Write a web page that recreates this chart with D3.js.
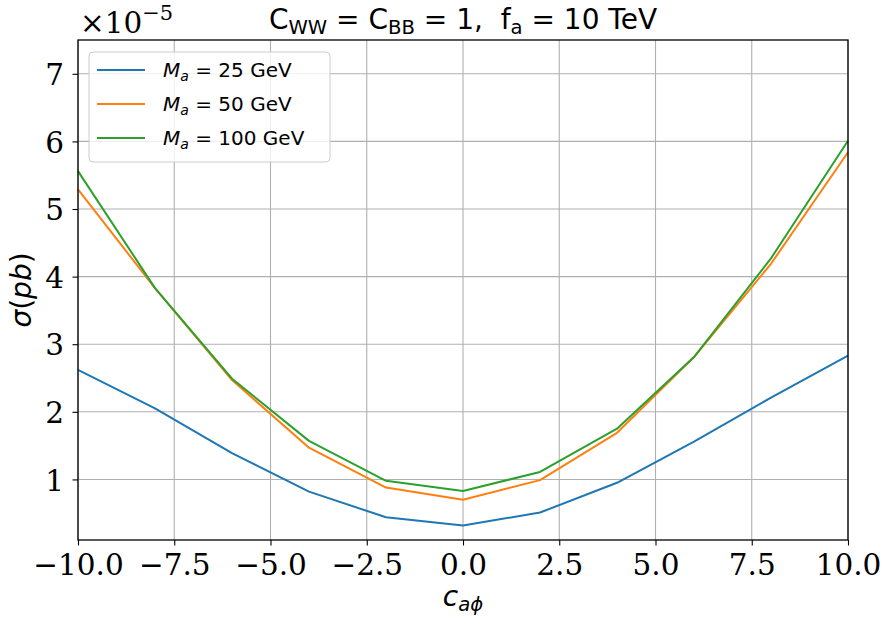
<!DOCTYPE html>
<html>
<head>
<meta charset="utf-8">
<script src="https://cdn.jsdelivr.net/npm/d3@7"></script>
<style>
  body { margin: 0; background: #fff; }
  svg { display: block; }
  text { white-space: pre; }
</style>
</head>
<body>
<div id="chart"></div>
<script>
// ---- data ----
const cvals = [-10, -8, -6, -4, -2, 0, 2, 4, 6, 8, 10];
const sigma25 = [2.62, 2.05, 1.39, 0.82, 0.44, 0.32, 0.51, 0.95, 1.56, 2.21, 2.83];
const sigma50 = [5.29, 3.83, 2.47, 1.47, 0.88, 0.70, 0.99, 1.69, 2.81, 4.19, 5.84];
const sigma100 = [5.56, 3.83, 2.49, 1.57, 0.98, 0.83, 1.11, 1.75, 2.81, 4.27, 6.01];
const seriesMass = ["25", "50", "100"];
const seriesColors = ["#1f77b4", "#ff7f0e", "#2ca02c"];
const xTicks = [-10, -7.5, -5, -2.5, 0, 2.5, 5, 7.5, 10];
const yTicks = [1, 2, 3, 4, 5, 6, 7];

(function () {
const W = 887, H = 620;
const pL = 78, pR = 848, pT = 40, pB = 540;

const svg = d3.select("#chart").append("svg").attr("width", W).attr("height", H);

const x = d3.scaleLinear().domain([-10, 10]).range([pL, pR]);
const y = d3.scaleLinear().domain([0.104, 7.5]).range([pB, pT]);

const serif = "'DejaVu Serif', serif";
const sans = "'DejaVu Sans', sans-serif";

// grid
const grid = svg.append("g");
grid.selectAll(".gx").data(xTicks).join("line")
  .attr("x1", d => x(d)).attr("x2", d => x(d))
  .attr("y1", pT).attr("y2", pB)
  .attr("stroke", "#b0b0b0").attr("stroke-width", 1.1);
grid.selectAll(".gy").data(yTicks).join("line")
  .attr("x1", pL).attr("x2", pR)
  .attr("y1", d => y(d)).attr("y2", d => y(d))
  .attr("stroke", "#b0b0b0").attr("stroke-width", 1.1);

// lines
const allSeries = [sigma25, sigma50, sigma100];
const line = d3.line().x((d, i) => x(cvals[i])).y(d => y(d));
svg.append("g")
  .selectAll("path").data(allSeries).join("path")
  .attr("d", d => line(d))
  .attr("fill", "none")
  .attr("stroke", (d, i) => seriesColors[i])
  .attr("stroke-width", 2)
  .attr("stroke-linejoin", "round");

// axes
const xAxis = d3.axisBottom(x).tickValues(xTicks).tickFormat(d3.format(".1f")).tickSizeOuter(0).tickSize(5.5);
const gx = svg.append("g").attr("transform", `translate(0,${pB})`).call(xAxis);
gx.select(".domain").remove();
gx.selectAll(".tick line").attr("stroke", "#000").attr("stroke-width", 1.1);
gx.selectAll("text").attr("y", 35).attr("dy", 0)
  .attr("font-family", serif).attr("font-size", 29.5).attr("fill", "#000");

const yAxis = d3.axisLeft(y).tickValues(yTicks).tickFormat(d3.format("d")).tickSizeOuter(0).tickSize(5.5);
const gy = svg.append("g").attr("transform", `translate(${pL},0)`).call(yAxis);
gy.select(".domain").remove();
gy.selectAll(".tick line").attr("stroke", "#000").attr("stroke-width", 1.1);
gy.selectAll("text").attr("x", -14).attr("dy", "0.36em")
  .attr("font-family", serif).attr("font-size", 29.5).attr("fill", "#000");

// frame
svg.append("rect").attr("x", pL).attr("y", pT)
  .attr("width", pR - pL).attr("height", pB - pT)
  .attr("fill", "none").attr("stroke", "#000").attr("stroke-width", 1.3);

// offset text
const off = svg.append("text").attr("x", 80).attr("y", 33)
  .attr("font-family", serif).attr("font-size", 29.5).attr("fill", "#000");
off.append("tspan").text("×10");
off.append("tspan").attr("font-size", 21).attr("dy", -13).text("−5");

// title
const title = svg.append("text").attr("x", (pL + pR) / 2).attr("y", 29)
  .attr("text-anchor", "middle").attr("font-family", sans).attr("font-size", 28).attr("fill", "#000");
title.append("tspan").text("C");
title.append("tspan").attr("font-size", 19.6).attr("dy", 5).text("WW");
title.append("tspan").attr("dy", -5).text(" = C");
title.append("tspan").attr("font-size", 19.6).attr("dy", 5).text("BB");
title.append("tspan").attr("dy", -5).text(" = 1,\u00a0\u00a0f");
title.append("tspan").attr("font-size", 19.6).attr("dy", 5).text("a");
title.append("tspan").attr("dy", -5).text(" = 10 TeV");

// y label
const yl = svg.append("text")
  .attr("transform", `translate(31,${(pT + pB) / 2}) rotate(-90)`)
  .attr("text-anchor", "middle").attr("font-family", sans).attr("font-size", 28).attr("fill", "#000");
yl.append("tspan").attr("font-style", "italic").text("σ");
yl.append("tspan").text("(");
yl.append("tspan").attr("font-style", "italic").text("pb");
yl.append("tspan").text(")");

// x label
const xl = svg.append("text").attr("x", (pL + pR) / 2).attr("y", 606)
  .attr("text-anchor", "middle").attr("font-family", sans).attr("font-size", 28)
  .attr("font-style", "italic").attr("fill", "#000");
xl.append("tspan").text("c");
xl.append("tspan").attr("font-size", 19.6).attr("dy", 5).text("aϕ");

// legend
const lg = svg.append("g");
lg.append("rect").attr("x", 89).attr("y", 52).attr("width", 241).attr("height", 110)
  .attr("rx", 4).attr("fill", "#fff").attr("fill-opacity", 0.8)
  .attr("stroke", "#cccccc").attr("stroke-width", 1);
const rowY = [70, 104, 138];
seriesMass.forEach((m, i) => {
  lg.append("line").attr("x1", 97).attr("x2", 145).attr("y1", rowY[i]).attr("y2", rowY[i])
    .attr("stroke", seriesColors[i]).attr("stroke-width", 2);
  const t = lg.append("text").attr("x", 163).attr("y", rowY[i] + 7)
    .attr("font-family", sans).attr("font-size", 20).attr("fill", "#000");
  t.append("tspan").attr("font-style", "italic").text("M");
  t.append("tspan").attr("font-style", "italic").attr("font-size", 14).attr("dy", 3.5).text("a");
  t.append("tspan").attr("dy", -3.5).text(" = " + m + " GeV");
});
})();
</script>
</body>
</html>
